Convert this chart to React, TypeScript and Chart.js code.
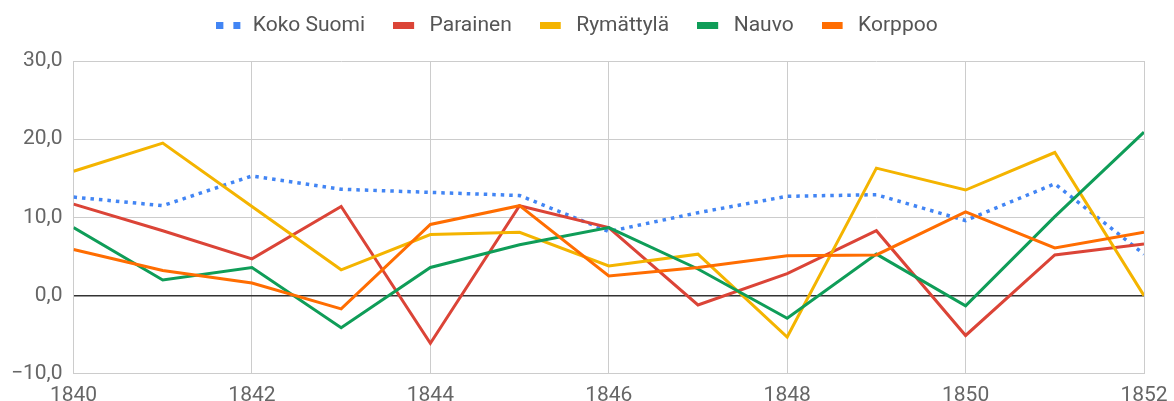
import React, { useEffect, useRef } from "react";
import { Chart, registerables } from "chart.js";

Chart.register(...registerables);

const years = [1840, 1841, 1842, 1843, 1844, 1845, 1846, 1847, 1848, 1849, 1850, 1851, 1852];
const kokoSuomi = [12.6, 11.5, 15.3, 13.6, 13.2, 12.8, 8.2, 10.6, 12.7, 12.9, 9.6, 14.3, 5.3];
const parainen = [11.7, 8.3, 4.7, 11.4, -6.1, 11.5, 8.7, -1.2, 2.8, 8.3, -5.1, 5.2, 6.6];
const rymattyla = [15.9, 19.5, 11.4, 3.3, 7.8, 8.1, 3.8, 5.3, -5.3, 16.3, 13.5, 18.3, 0.0];
const nauvo = [8.7, 2.0, 3.6, -4.1, 3.6, 6.5, 8.7, 3.4, -2.9, 5.3, -1.3, 10.1, 20.9];
const korppoo = [5.9, 3.2, 1.6, -1.7, 9.1, 11.5, 2.5, 3.6, 5.1, 5.2, 10.7, 6.1, 8.1];

const seriesNames = ["Koko Suomi", "Parainen", "Rymättylä", "Nauvo", "Korppoo"];
const seriesValues = [kokoSuomi, parainen, rymattyla, nauvo, korppoo];
const seriesColors = ["#4285F4", "#DB4437", "#F4B400", "#0F9D58", "#FF6D01"];
const dottedSeries = [true, false, false, false, false];

function makeSwatch(color: string, dotted: boolean): HTMLCanvasElement {
  const c = document.createElement("canvas");
  c.width = 26;
  c.height = 7;
  const g = c.getContext("2d")!;
  g.fillStyle = color;
  if (dotted) {
    g.fillRect(0, 0, 7, 7);
    g.fillRect(17, 0, 7, 7);
  } else {
    g.fillRect(0, 0, 21, 7);
  }
  return c;
}

const fmtY = (v: number) => (v < 0 ? "\u2212" : "") + Math.abs(v).toFixed(1).replace(".", ",");

export default function App() {
  const ref = useRef<HTMLCanvasElement | null>(null);

  useEffect(() => {
    document.body.style.margin = "0";
    Chart.defaults.font.family = "Roboto";
    const swatches = seriesColors.map((c, i) => makeSwatch(c, dottedSeries[i]));

    const datasets = seriesNames.map((name, i) => ({
      label: name,
      data: years.map((yr, j) => ({ x: yr, y: seriesValues[i][j] })),
      borderColor: seriesColors[i],
      backgroundColor: seriesColors[i],
      borderWidth: dottedSeries[i] ? 3.5 : 3,
      borderDash: dottedSeries[i] ? [3.5, 5] : [],
      pointRadius: 0,
      tension: 0,
      fill: false,
      order: seriesNames.length - i,
    }));

    const legendSpacing = {
      id: "legendSpacing",
      beforeLayout(chart: any) {
        const lg = chart.legend;
        if (lg && !lg.__patched) {
          const orig = lg.fit;
          lg.fit = function () {
            orig.call(this);
            this.height += 15;
          };
          lg.__patched = true;
        }
      },
      afterLayout(chart: any) {
        const lg = chart.legend;
        if (lg) {
          lg.left += 5;
          lg.right += 5;
        }
      },
    };

    const chart = new Chart(ref.current!, {
      type: "line",
      data: { datasets },
      options: {
        animation: false,
        responsive: false,
        layout: { padding: { top: -13, left: 0, right: 30, bottom: -16 } },
        plugins: {
          tooltip: { enabled: false },
          legend: {
            position: "top",
            labels: {
              usePointStyle: true,
              pointStyleWidth: 26,
              padding: 28,
              color: "#555555",
              font: { family: "Roboto", size: 21 },
              generateLabels: (ch: any) => {
                const items = (Chart.defaults.plugins.legend.labels as any).generateLabels(ch);
                return items
                  .map((it: any) => ({ ...it, pointStyle: swatches[it.datasetIndex], rotation: 0 }))
                  .sort((a: any, b: any) => a.datasetIndex - b.datasetIndex);
              },
            },
          },
        },
        scales: {
          x: {
            type: "linear",
            min: 1840,
            max: 1852,
            afterFit: (scale: any) => {
              scale.paddingRight = Math.min(scale.paddingRight, 28);
            },
            ticks: {
              stepSize: 2,
              padding: 9,
              color: "#666666",
              font: { family: "Roboto", size: 21 },
              callback: (v: any) => String(v),
              maxRotation: 0,
            },
            grid: { color: "#cccccc", lineWidth: 1, drawTicks: false },
            border: { display: true, color: "#cccccc" },
          },
          y: {
            min: -10,
            max: 30,
            ticks: {
              stepSize: 10,
              padding: 11,
              color: "#666666",
              font: { family: "Roboto", size: 21 },
              callback: (v: any) => fmtY(Number(v)),
            },
            grid: {
              color: (ctx: any) => (ctx.tick && ctx.tick.value === 0 ? "#333333" : "#cccccc"),
              lineWidth: (ctx: any) => (ctx.tick && ctx.tick.value === 0 ? 1.5 : 1),
              drawTicks: false,
            },
            border: { display: true, color: "#cccccc" },
          },
        },
      },
      plugins: [legendSpacing],
    } as any);

    return () => chart.destroy();
  }, []);

  return (
    <div style={{ width: 1174, height: 401 }}>
      <canvas ref={ref} width={1174} height={401} />
    </div>
  );
}
